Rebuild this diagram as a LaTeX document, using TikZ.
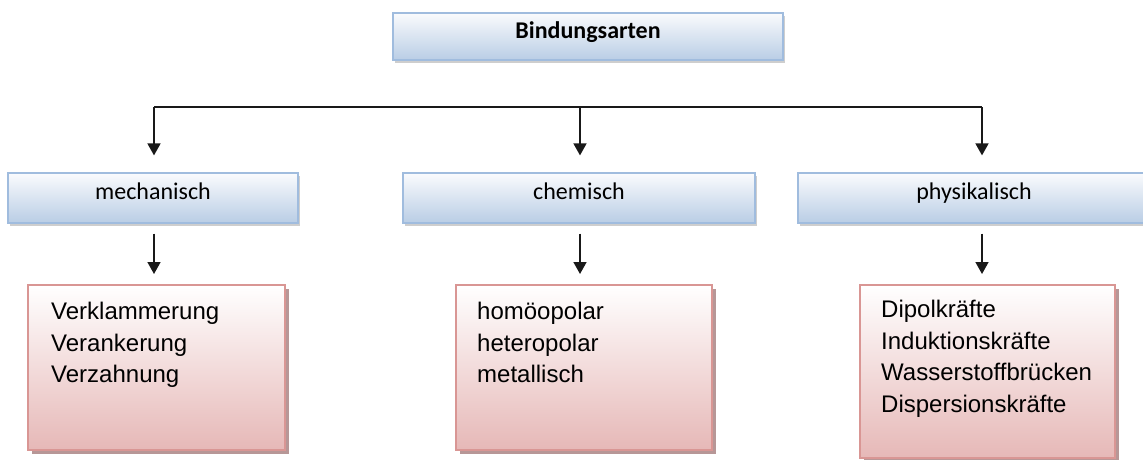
\documentclass[tikz,border=0pt]{standalone}
\usepackage{fontspec}
\setmainfont{Liberation Sans}
\newfontfamily\carlito{Carlito}
\usetikzlibrary{arrows.meta,shadows}

\definecolor{blueTop}{RGB}{250,251,253}
\definecolor{blueBot}{RGB}{185,205,229}
\definecolor{blueEdge}{RGB}{160,188,222}
\definecolor{pinkBot}{RGB}{230,184,183}
\definecolor{pinkEdge}{RGB}{217,150,148}
\definecolor{pinkShade}{RGB}{175,140,140}

\tikzset{
  catbox/.style={draw=blueEdge, line width=1.2pt, top color=blueTop, bottom color=blueBot,
    drop shadow={shadow xshift=2pt, shadow yshift=-3pt, fill=gray!55, opacity=0.7},
    font=\carlito\fontsize{24}{28}\selectfont, inner sep=0pt,
    text height=12pt, text depth=9pt},
  listbox/.style={draw=pinkEdge, line width=2pt, top color=white, bottom color=pinkBot,
    drop shadow={shadow xshift=4pt, shadow yshift=-4pt, fill=pinkShade, opacity=0.9},
    inner sep=0pt},
  listtext/.style={anchor=north west, align=left, inner sep=0pt,
    font=\fontsize{24}{31.7}\selectfont},
  link/.style={line width=1.6pt, draw=black!90},
  arr/.style={link, -{Triangle[width=13pt,length=12pt]}}
}

\begin{document}
\begin{tikzpicture}[x=1pt, y=-1pt]
  \useasboundingbox (0,0) rectangle (1143,460);

  % root
  \node[catbox, minimum width=390pt, minimum height=47pt, text height=14pt]
    (root) at (588,36.5) {\bfseries Bindungsarten};

  % categories
  \node[catbox, minimum width=290pt, minimum height=50pt] (mech) at (153,198) {mechanisch};
  \node[catbox, minimum width=352pt, minimum height=50pt] (chem) at (579,198) {chemisch};
  \node[catbox, minimum width=352pt, minimum height=50pt] (phys) at (974,198) {physikalisch};

  % detail boxes
  \node[listbox, minimum width=257pt, minimum height=165pt] (mechd) at (156.5,367.5) {};
  \node[listbox, minimum width=256pt, minimum height=165pt] (chemd) at (584,367.5) {};
  \node[listbox, minimum width=255pt, minimum height=173pt] (physd) at (987.5,371.5) {};

  \node[listtext] (mecht) at ([xshift=24pt, yshift=-18pt]mechd.north west)
    {Verklammerung\\Verankerung\\Verzahnung};
  \node[listtext] (chemt) at ([xshift=22pt, yshift=-18pt]chemd.north west)
    {homöopolar\\heteropolar\\metallisch};
  \node[listtext] (physt) at ([xshift=22pt, yshift=-16pt]physd.north west)
    {Dipolkräfte\\Induktionskräfte\\Wasserstoffbrücken\\Dispersionskräfte};

  % distribution line
  \coordinate (b1) at (154,107);
  \coordinate (b2) at (580,107);
  \coordinate (b3) at (982,107);
  \draw[link] (b1) -- (b3);
  \draw[arr, shorten >=17pt] (b1) -- (b1 |- mech.north);
  \draw[arr, shorten >=17pt] (b2) -- (b2 |- chem.north);
  \draw[arr, shorten >=17pt] (b3) -- (b3 |- phys.north);

  % category to details
  \draw[arr, shorten <=10pt, shorten >=10pt] (b1 |- mech.south) -- (b1 |- mechd.north);
  \draw[arr, shorten <=10pt, shorten >=10pt] (b2 |- chem.south) -- (b2 |- chemd.north);
  \draw[arr, shorten <=10pt, shorten >=10pt] (b3 |- phys.south) -- (b3 |- physd.north);
\end{tikzpicture}
\end{document}
